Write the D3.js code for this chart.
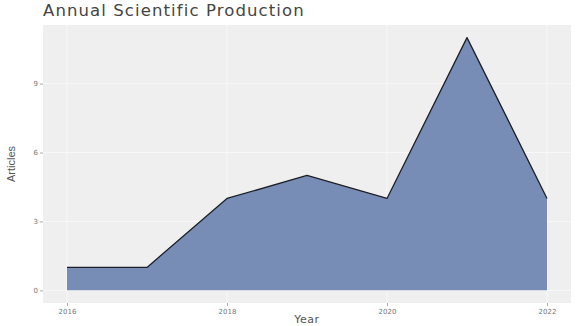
<!DOCTYPE html>
<html>
<head>
<meta charset="utf-8">
<script src="https://cdn.jsdelivr.net/npm/d3@7"></script>
<style>
  html, body { margin: 0; padding: 0; background: #fff; }
  svg { display: block; font-family: "DejaVu Sans", sans-serif; }
</style>
</head>
<body>
<svg id="chart" width="576" height="326"></svg>
<script>
// Articles published per year
const years = [2016, 2017, 2018, 2019, 2020, 2021, 2022];
const articles = [1, 1, 4, 5, 4, 11, 4];
const xTicks = [2016, 2018, 2020, 2022];
const yTicks = [0, 3, 6, 9];

const W = 576, H = 326;
const panel = { left: 43, top: 25, right: 571, bottom: 303 };

const svg = d3.select("#chart");

// ggplot-style 5% expansion on both axes
const xMin = d3.min(years), xMax = d3.max(years);
const yMin = 0, yMax = d3.max(articles);
const xPad = (xMax - xMin) * 0.05, yPad = (yMax - yMin) * 0.05;

const x = d3.scaleLinear().domain([xMin - xPad, xMax + xPad]).range([panel.left, panel.right]);
const y = d3.scaleLinear().domain([yMin - yPad, yMax + yPad]).range([panel.bottom, panel.top]);

// Panel background
svg.append("rect")
  .attr("x", panel.left).attr("y", panel.top)
  .attr("width", panel.right - panel.left).attr("height", panel.bottom - panel.top)
  .attr("fill", "#efefef");

// Grid lines
const grid = svg.append("g").attr("stroke", "#f8f8f8").attr("stroke-width", 1);
grid.selectAll("line.v").data(xTicks).join("line")
  .attr("x1", d => x(d)).attr("x2", d => x(d))
  .attr("y1", panel.top).attr("y2", panel.bottom);
grid.selectAll("line.h").data(yTicks).join("line")
  .attr("x1", panel.left).attr("x2", panel.right)
  .attr("y1", d => y(d)).attr("y2", d => y(d));

const data = years.map((yr, i) => ({ year: yr, n: articles[i] }));

// Filled area
svg.append("path")
  .datum(data)
  .attr("fill", "#778db6")
  .attr("d", d3.area().x(d => x(d.year)).y0(y(0)).y1(d => y(d.n)));

// Outline along the top
svg.append("path")
  .datum(data)
  .attr("fill", "none")
  .attr("stroke", "#1c1f28")
  .attr("stroke-width", 1.3)
  .attr("stroke-linejoin", "round")
  .attr("d", d3.line().x(d => x(d.year)).y(d => y(d.n)));

// Axes
const xAxis = svg.append("g")
  .attr("transform", `translate(0,${panel.bottom})`)
  .call(d3.axisBottom(x).tickValues(xTicks).tickFormat(d3.format("d")).tickSize(3).tickPadding(3));
const yAxis = svg.append("g")
  .attr("transform", `translate(${panel.left},0)`)
  .call(d3.axisLeft(y).tickValues(yTicks).tickFormat(d3.format("d")).tickSize(3).tickPadding(2));

[xAxis, yAxis].forEach(g => {
  g.select(".domain").remove();
  g.selectAll(".tick line").attr("stroke", "#aaa");
  g.selectAll(".tick text").attr("fill", "#777").style("font-size", "7px")
    .style("font-family", "DejaVu Sans, sans-serif");
});

// Titles
svg.append("text")
  .attr("x", 43).attr("y", 15.5)
  .attr("fill", "#444")
  .style("font-size", "16.5px")
  .style("letter-spacing", "1.1px")
  .text("Annual Scientific Production");

svg.append("text")
  .attr("x", (panel.left + panel.right) / 2).attr("y", 323)
  .attr("text-anchor", "middle")
  .attr("fill", "#555")
  .style("font-size", "11px")
  .style("letter-spacing", "0.5px")
  .text("Year");

svg.append("text")
  .attr("transform", `translate(15,${(panel.top + panel.bottom) / 2}) rotate(-90)`)
  .attr("text-anchor", "middle")
  .attr("fill", "#555")
  .style("font-size", "11px")
  .style("font-family", "Liberation Sans Narrow, Liberation Sans, sans-serif")
  .text("Articles");
</script>
</body>
</html>
